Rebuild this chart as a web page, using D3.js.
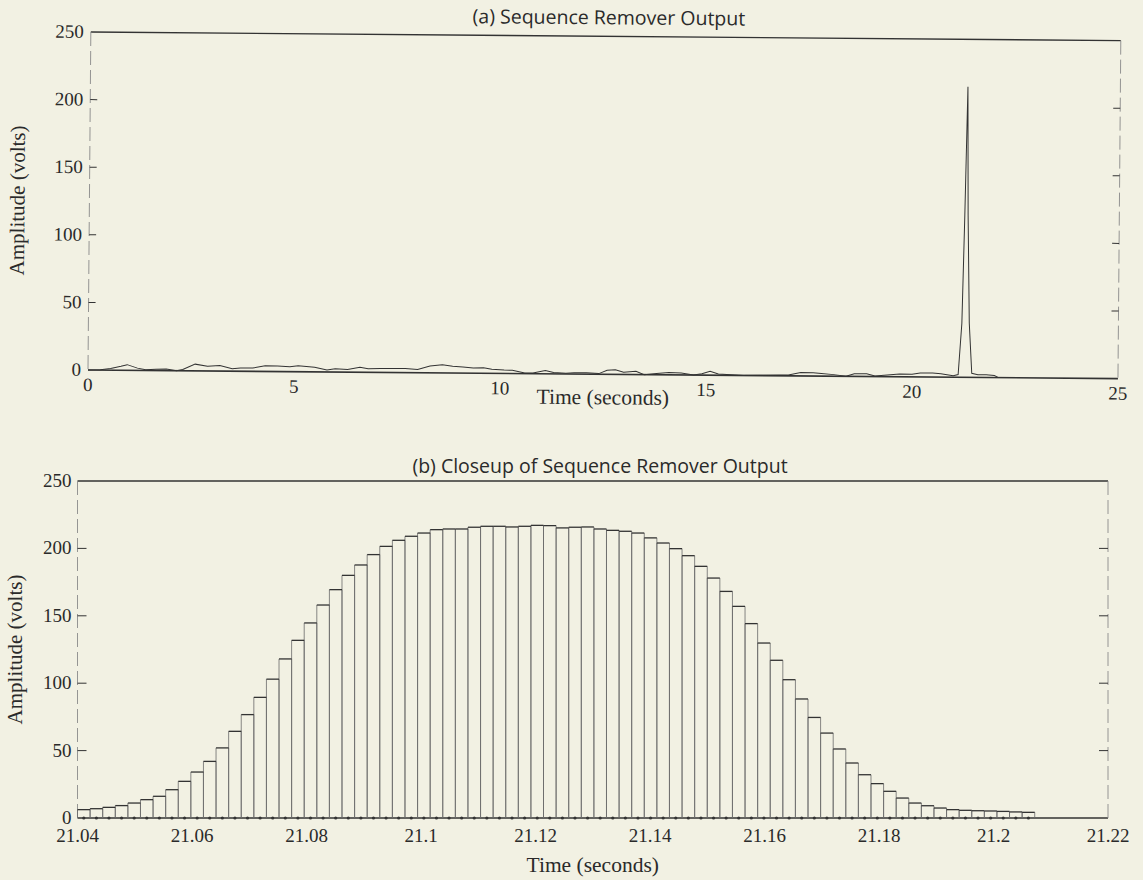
<!DOCTYPE html>
<html>
<head>
<meta charset="utf-8">
<script src="https://cdn.jsdelivr.net/npm/d3@7"></script>
<style>
  html, body { margin: 0; padding: 0; background: #f2f1e3; }
  svg { display: block; }
  .tick-label, .axis-label { font-family: "Liberation Serif", serif; fill: #2a2a2a; }
  .title { font-family: "Open Sans", sans-serif; fill: #2a2a2a; }
</style>
</head>
<body>
<svg width="1143" height="880"></svg>
<script>
// (a) full record: time (s) and amplitude (V)
const fullTimes = [0, 0.3, 0.55, 0.8, 0.95, 1.2, 1.4, 1.65, 1.9, 2.15, 2.3, 2.6, 2.9, 3.2, 3.5, 3.7,
  4.0, 4.3, 4.6, 4.9, 5.1, 5.5, 5.8, 6.0, 6.3, 6.6, 6.8, 7.1, 7.4, 7.7, 8.0, 8.3, 8.6, 8.85,
  9.1, 9.35, 9.6, 9.8, 10.1, 10.3, 10.6, 10.8, 11.1, 11.3, 11.6, 11.8, 12.1, 12.4, 12.6, 12.8,
  13.0, 13.3, 13.5, 13.8, 14.1, 14.4, 14.7, 14.9, 15.1, 15.3, 15.6, 15.9, 16.3, 16.8, 17.0,
  17.3, 17.6, 17.8, 18.1, 18.4, 18.6, 18.9, 19.1, 19.4, 19.7, 20.0, 20.2, 20.5, 20.7, 21.0,
  21.12, 21.2, 21.25, 21.3, 21.33, 21.38, 21.45, 21.6, 21.8, 22.0, 22.1];
const fullVolts = [0, 0.3, 1.2, 3, 4.2, 1.7, 0.5, 1, 1.2, 0, 1, 5, 3.5, 4.2, 1.8, 2.5,
  2.5, 4.2, 4.2, 3.7, 4.5, 3.5, 1.5, 2.5, 2, 3.7, 2.7, 3, 3, 3, 2.5, 5, 6, 5,
  4.5, 3.8, 4.2, 3, 2.5, 2.5, 0.5, 0.5, 2.5, 1, 0.5, 1, 1, 0.5, 3, 3.5,
  1.7, 2.5, 0, 1, 1.7, 1.5, 0, 1, 3, 1, 0.5, 0, 0.3, 0.5, 0.7,
  2.5, 2.5, 2, 1.2, 0, 2, 2, 0.5, 1.2, 2, 2, 3, 3, 2.5, 1.2,
  2, 40, 120, 215, 120, 40, 3, 2, 2, 1.5, 0];

// (b) closeup: one held value per sample, starting at 21.04 s
const closeStart = 21.04;
const samplePeriod = 0.0022;
const closeVolts = [6.2, 6.9, 7.9, 9.2, 11.1, 13.6, 16.1, 21, 27.2, 34.1, 42, 52, 64.3, 76.7,
  89.5, 103, 118, 131.8, 144.7, 158, 169.4, 180, 187.7, 195.4, 201.5, 206, 209, 211.4, 213.9,
  214.4, 214.4, 215.7, 216.4, 216.4, 215.9, 216.4, 217.1, 216.9, 215.2, 215.7, 215.9, 214.4,
  213.4, 212.7, 211.4, 207.8, 204, 199.8, 194.6, 186.7, 178, 168.1, 157, 144.2, 129.8, 117,
  102.6, 88.3, 74.6, 63, 51.2, 40.8, 32.1, 25.5, 19.8, 14.8, 11.1, 9.1, 7.4, 6.2, 5.7, 5.4,
  5.2, 4.9, 4.5, 4.2];

const yTicks = [0, 50, 100, 150, 200, 250];
const fullXTicks = [0, 5, 10, 15, 20, 25];
const closeXTicks = [21.04, 21.06, 21.08, 21.1, 21.12, 21.14, 21.16, 21.18, 21.2, 21.22];

const svg = d3.select('svg');
const ink = '#333';

function frame(g, x, y, opts) {
  const [x0, x1] = x.range();
  const [yb, yt] = y.range();
  // top and bottom edges are solid, the sides came out faint in the print
  g.append('line').attr('x1', x0).attr('x2', x1).attr('y1', yt).attr('y2', yt)
    .attr('stroke', ink).attr('stroke-width', 1.4);
  g.append('line').attr('x1', x0).attr('x2', x1).attr('y1', yb).attr('y2', yb)
    .attr('stroke', ink).attr('stroke-width', 1.6);
  [x0, x1].forEach(xx => {
    g.append('line').attr('x1', xx).attr('x2', xx).attr('y1', yt).attr('y2', yb)
      .attr('stroke', '#8a8a8a').attr('stroke-width', 0.9)
      .attr('stroke-dasharray', '14 5');
  });

  yTicks.slice(1, -1).forEach(v => {
    g.append('line').attr('x1', x0).attr('x2', x0 + opts.tick).attr('y1', y(v)).attr('y2', y(v))
      .attr('stroke', ink).attr('stroke-width', 1);
    g.append('line').attr('x1', x1 - opts.tick).attr('x2', x1).attr('y1', y(v)).attr('y2', y(v))
      .attr('stroke', ink).attr('stroke-width', 1);
  });

  g.selectAll('.ylab')
    .data(yTicks)
    .enter().append('text')
      .attr('class', 'tick-label')
      .attr('x', x0 - opts.labelGap)
      .attr('y', d => y(d) + 6)
      .attr('text-anchor', 'end')
      .attr('font-size', 19)
      .text(d => d);

  g.selectAll('.xlab')
    .data(opts.xTicks)
    .enter().append('text')
      .attr('class', 'tick-label')
      .attr('x', d => x(d))
      .attr('y', yb + opts.xLabelDy)
      .attr('text-anchor', 'middle')
      .attr('font-size', 19)
      .text(opts.fmt);

  g.append('text')
    .attr('class', 'axis-label')
    .attr('x', (x0 + x1) / 2)
    .attr('y', yb + opts.xTitleDy)
    .attr('text-anchor', 'middle')
    .attr('font-size', 21.5)
    .text('Time (seconds)');

  g.append('text')
    .attr('class', 'axis-label')
    .attr('transform', `translate(${opts.yTitleX},${(yb + yt) / 2}) rotate(-90)`)
    .attr('text-anchor', 'middle')
    .attr('font-size', 21)
    .text('Amplitude (volts)');

  g.append('text')
    .attr('class', 'title')
    .attr('x', opts.titleX)
    .attr('y', yt - opts.titleDy)
    .attr('text-anchor', 'middle')
    .attr('font-size', 19.5)
    .text(opts.title);
}

// ---- (a) Sequence Remover Output ----
const xa = d3.scaleLinear().domain([0, 25]).range([88, 1118]);
const ya = d3.scaleLinear().domain([0, 250]).range([370, 32]);
const ga = svg.append('g')
  .attr('transform', 'rotate(0.48, 88, 370)');

frame(ga, xa, ya, {
  tick: 7, labelGap: 7, xTicks: fullXTicks, fmt: d => d,
  xLabelDy: 21, xTitleDy: 30, yTitleX: 23, titleX: 606, titleDy: 12,
  title: '(a) Sequence Remover Output'
});

const fullData = fullTimes.map((t, i) => [t, fullVolts[i]]);
ga.append('path')
  .datum(fullData)
  .attr('fill', 'none')
  .attr('stroke', ink)
  .attr('stroke-width', 1)
  .attr('d', d3.line().x(d => xa(d[0])).y(d => ya(d[1])));

// ---- (b) Closeup of Sequence Remover Output ----
const xb = d3.scaleLinear().domain([21.04, 21.22]).range([77.5, 1108]);
const yb = d3.scaleLinear().domain([0, 250]).range([818, 481]);
const gb = svg.append('g');

frame(gb, xb, yb, {
  tick: 9, labelGap: 6, xTicks: closeXTicks, fmt: d => d3.format('')(+d.toFixed(2)),
  xLabelDy: 24, xTitleDy: 54, yTitleX: 22, titleX: 600, titleDy: 8,
  title: '(b) Closeup of Sequence Remover Output'
});

const steps = closeVolts.map((v, i) => ({
  t0: closeStart + i * samplePeriod,
  t1: closeStart + (i + 1) * samplePeriod,
  v
}));

gb.selectAll('.riser')
  .data(steps)
  .enter().append('path')
    .attr('fill', 'none')
    .attr('stroke', '#6a6a6a')
    .attr('stroke-width', 0.8)
    .attr('d', d => `M${xb(d.t0)},${yb(0)}V${yb(d.v)}M${xb(d.t1)},${yb(0)}V${yb(d.v)}`);

gb.selectAll('.tread')
  .data(steps)
  .enter().append('line')
    .attr('x1', d => xb(d.t0))
    .attr('x2', d => xb(d.t1))
    .attr('y1', d => yb(d.v))
    .attr('y2', d => yb(d.v))
    .attr('stroke', ink)
    .attr('stroke-width', 1.3);

gb.selectAll('.dot')
  .data(steps)
  .enter().append('circle')
    .attr('cx', d => xb((d.t0 + d.t1) / 2))
    .attr('cy', yb(0))
    .attr('r', 1.6)
    .attr('fill', ink);
</script>
</body>
</html>
